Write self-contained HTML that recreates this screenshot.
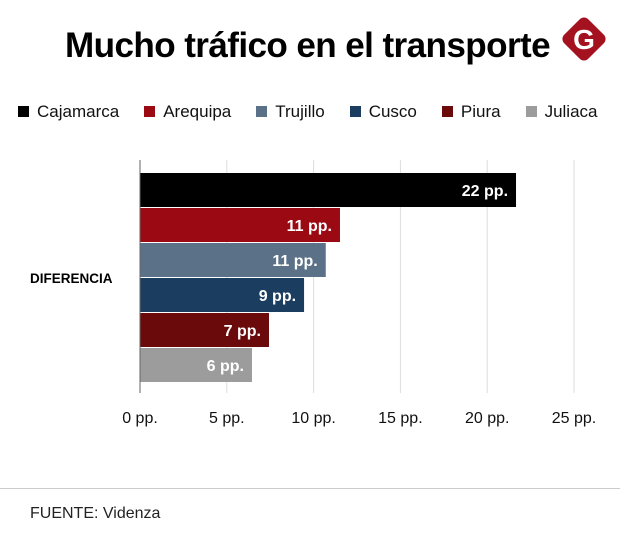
<!DOCTYPE html>
<html><head><meta charset="utf-8"><style>
body{margin:0;width:620px;height:552px;background:#fff;font-family:"Liberation Sans",sans-serif;position:relative;overflow:hidden}
.title{position:absolute;left:65px;top:26px;font-weight:bold;font-size:35px;letter-spacing:-0.6px;color:#000;white-space:nowrap;transform-origin:left top}
.legend{position:absolute;top:102px;left:18px;font-size:17px;color:#111;white-space:nowrap}
.legend span.i{margin-right:25px}
.legend b{display:inline-block;width:11px;height:11px;margin-right:8px;vertical-align:0px}
</style></head><body>
<div class="title" id="title">Mucho tráfico en el transporte</div>
<svg style="position:absolute;left:559px;top:14px" width="50" height="50"><rect x="8" y="8" width="34" height="34" rx="6" fill="#a3121e" transform="rotate(45 25 25)"/><text x="25" y="35" text-anchor="middle" font-family="Liberation Sans" font-weight="bold" font-size="28" fill="#fff">G</text></svg>
<div class="legend" id="legend"></div>
<svg id="chart" width="620" height="552" style="position:absolute;left:0;top:0"></svg>
<div style="position:absolute;left:0;top:488px;width:620px;height:1px;background:#ccc"></div>
<div style="position:absolute;left:30px;top:505px;font-size:16px;color:#222">FUENTE: Videnza</div>
<script>
const categories=["Cajamarca","Arequipa","Trujillo","Cusco","Piura","Juliaca"];
const values=[21.66,11.52,10.7,9.45,7.43,6.45];
const valueLabels=["22 pp.","11 pp.","11 pp.","9 pp.","7 pp.","6 pp."];
const colors=["#000000","#9b0a12","#5a7188","#1b3d60","#6a0a0a","#9c9c9c"];
const ticks=[0,5,10,15,20,25];
const tickLabels=["0 pp.","5 pp.","10 pp.","15 pp.","20 pp.","25 pp."];
const NS="http://www.w3.org/2000/svg";
const svg=document.getElementById('chart');
const x=v=>140+v*17.36;
const y=i=>173+i*35;
function mk(t,a){const e=document.createElementNS(NS,t);for(const k in a)e.setAttribute(k,a[k]);svg.appendChild(e);return e;}
ticks.forEach((t,i)=>{
 if(i>0){const g=mk('line',{x1:x(t),x2:x(t),y1:160,y2:393,stroke:'#ddd','stroke-width':1});
 
 }
 const l=mk('text',{x:x(t),y:423,'text-anchor':'middle','font-size':16,fill:'#111','font-family':'Liberation Sans'});
 l.textContent=tickLabels[i];
 
 
});
values.forEach((v,i)=>{
 const r=mk('rect',{x:x(0),y:y(i),width:x(v)-x(0),height:34,fill:colors[i]});
 
 
 const t=mk('text',{x:x(v)-8,y:y(i)+23,'text-anchor':'end','font-size':16,'font-weight':'bold',fill:'#fff','font-family':'Liberation Sans'});
 t.textContent=valueLabels[i];
 
 
});
const ax=mk('line',{x1:140,x2:140,y1:160,y2:393,stroke:'#666','stroke-width':1});


const yl=mk('text',{x:30,y:283,'font-size':13.5,'font-weight':'bold',fill:'#000','font-family':'Liberation Sans'});
yl.textContent='DIFERENCIA';


const lg=document.getElementById('legend');
categories.forEach((c,i)=>{
 const s=document.createElement('span');s.className='i';
 
 
 s.innerHTML='<b style="background:'+colors[i]+'"></b>'+c;
 lg.appendChild(s);
});
const ti=document.getElementById('title');
const w=ti.getBoundingClientRect().width;
if(w>0) ti.style.transform='scaleX('+(485/w)+')';
</script>
</body></html>
